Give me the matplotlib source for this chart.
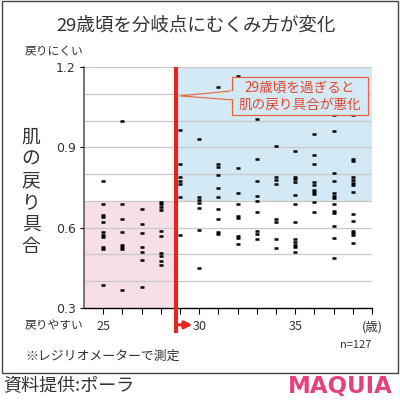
import matplotlib
matplotlib.use("Agg")
import matplotlib.pyplot as plt
import matplotlib.transforms as mtransforms
from matplotlib.patches import Rectangle, Polygon

plt.rcParams['font.family'] = ['Noto Sans CJK JP', 'DejaVu Sans']

# skin recovery values read per age (歳)
ages = [25, 26, 27, 28, 29, 30, 31, 32, 33, 34, 35, 36, 37, 38]
values = [
    [0.775, 0.687, 0.649, 0.640, 0.622, 0.583, 0.574, 0.564, 0.529, 0.520, 0.387],
    [1.000, 0.690, 0.632, 0.585, 0.536, 0.528, 0.519, 0.366],
    [0.670, 0.615, 0.581, 0.527, 0.510, 0.479, 0.378],
    [0.695, 0.687, 0.678, 0.667, 0.589, 0.569, 0.505, 0.495, 0.476, 0.460],
    [0.964, 0.839, 0.788, 0.775, 0.762, 0.716, 0.573],
    [0.931, 0.713, 0.703, 0.693, 0.672, 0.592, 0.450],
    [1.126, 0.839, 0.828, 0.798, 0.749, 0.713, 0.669, 0.634, 0.584, 0.576],
    [1.168, 0.822, 0.731, 0.687, 0.644, 0.635, 0.569, 0.560, 0.539],
    [1.006, 0.858, 0.774, 0.718, 0.701, 0.657, 0.586, 0.578, 0.558],
    [1.100, 0.905, 0.788, 0.778, 0.763, 0.632, 0.620, 0.556, 0.523],
    [0.887, 0.788, 0.781, 0.772, 0.722, 0.689, 0.620, 0.556, 0.547, 0.537, 0.529, 0.510],
    [0.950, 0.871, 0.838, 0.770, 0.761, 0.742, 0.733, 0.726, 0.695, 0.660],
    [1.020, 0.962, 0.805, 0.775, 0.731, 0.720, 0.710, 0.690, 0.662, 0.655, 0.607, 0.560, 0.487],
    [1.021, 0.858, 0.849, 0.788, 0.778, 0.768, 0.758, 0.732, 0.650, 0.626, 0.589, 0.581, 0.574, 0.542],
]
yticks = [0.3, 0.6, 0.9, 1.2]
xtick_labels = {25: "25", 30: "30", 35: "35", 39: "(歳)"}
split_age = 28.8
threshold = 0.7

W = H = 400.0
def fx(x):
    return x / W
def fy(y):
    return 1 - y / H

red = "#e3261f"
grey = "#333333"

fig = plt.figure(figsize=(4, 4), dpi=100)
fig.patches.append(Rectangle((fx(2), fy(373)), fx(396), 372 / H, transform=fig.transFigure,
                             fill=False, edgecolor="#444444", lw=1.0))

ax = fig.add_axes([fx(84), fy(308), fx(288), 241 / H])
ax.set_xlim(24, 39)
ax.set_ylim(0.3, 1.2)

ax.add_patch(Rectangle((24, 0.3), split_age - 24, threshold - 0.3, color="#f7dfe8", lw=0, zorder=0))
ax.add_patch(Rectangle((split_age, threshold), 39 - split_age, 1.2 - threshold, color="#d4e9f6", lw=0, zorder=0))
for g in [0.4, 0.5, 0.6, 0.7, 0.8, 0.9, 1.0, 1.1, 1.2]:
    ax.axhline(g, color="#c8c8c8", lw=0.9, zorder=1)

for a, vs in zip(ages, values):
    ax.plot([a] * len(vs), vs, ls="none", marker="_", ms=2.9, mew=1.8, color="black", zorder=3)

for s in ["top", "right"]:
    ax.spines[s].set_visible(False)
ax.spines["left"].set_color("#6a5a5a")
ax.spines["left"].set_linewidth(1.2)
ax.spines["bottom"].set_color("black")
ax.spines["bottom"].set_linewidth(1.0)

ax.set_yticks(yticks)
ax.set_yticklabels([f"{v:.1f}" for v in yticks], fontsize=9, color=grey, family="DejaVu Sans")
ax.tick_params(axis="y", length=3, width=0.8, pad=3)
ax.set_xticks(range(25, 40))
ax.set_xticklabels([xtick_labels.get(t, "") for t in range(25, 40)], fontsize=9, color=grey)
ax.tick_params(axis="x", length=4, width=0.8, pad=5)

# red divider line extending below the axis, with arrow
blend = mtransforms.blended_transform_factory(ax.transData, ax.transAxes)
ax.plot([split_age, split_age], [-0.104, 1.0], transform=blend, color=red, lw=3, clip_on=False, zorder=5,
        solid_capstyle="butt")
ax.annotate("", xy=(29.65, -0.07), xytext=(split_age, -0.07), xycoords=blend, textcoords=blend,
            arrowprops=dict(arrowstyle="-|>", color=red, lw=2.2, mutation_scale=11, shrinkA=0, shrinkB=0),
            zorder=6, annotation_clip=False)

# callout box
ax.add_patch(Polygon([(29.0, 1.092), (31.75, 1.111), (31.75, 1.077)], closed=True,
                     facecolor="#d4e9f6", edgecolor="#e8643c", lw=0.8, zorder=6))
ax.add_patch(Rectangle((31.71, 1.021), 38.79 - 31.71, 1.163 - 1.021, facecolor="#d4e9f6",
                       edgecolor="#e8643c", lw=0.9, zorder=6))
ax.add_patch(Rectangle((31.6, 1.080), 0.25, 0.03, facecolor="#d4e9f6", lw=0, zorder=7))
ax.text(35.25, 1.092, "29歳頃を過ぎると\n肌の戻り具合が悪化", ha="center", va="center", fontsize=9.8,
        color="#e8432a", linespacing=1.25, zorder=8)

fig.text(fx(196), fy(26), "29歳頃を分岐点にむくみ方が変化", ha="center", va="center", fontsize=13.3, color=grey)
fig.text(fx(25), fy(52), "戻りにくい", ha="left", va="center", fontsize=8.5, color=grey)
fig.text(fx(25), fy(326), "戻りやすい", ha="left", va="center", fontsize=8.5, color=grey)
fig.text(fx(31), fy(192), "\n".join("肌の戻り具合"), ha="center", va="center", fontsize=13.5,
         color=grey, linespacing=1.05)
fig.text(fx(25), fy(356), "※レジリオメーターで測定", ha="left", va="center", fontsize=9.3, color=grey)
fig.text(fx(371), fy(345), "n=127", ha="right", va="center", fontsize=8, color=grey)
fig.text(fx(3), fy(386), "資料提供:ポーラ", ha="left", va="center", fontsize=13, color=grey)
fig.text(fx(393), fy(386), "MAQUIA", ha="right", va="center", fontsize=16.5, color="#e8407a",
         family="DejaVu Sans", fontweight="bold")

fig.savefig("out.png", dpi=100)
